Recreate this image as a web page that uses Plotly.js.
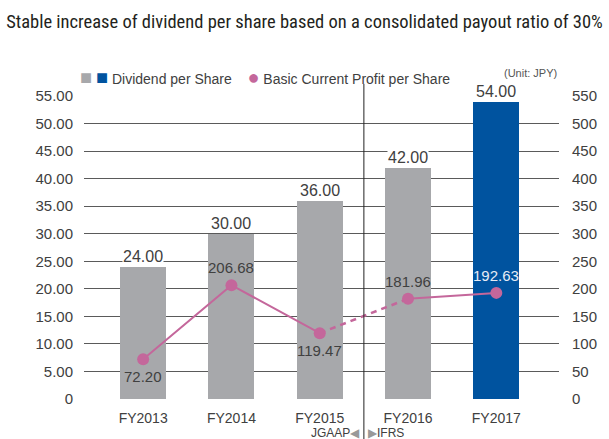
<!DOCTYPE html>
<html>
<head>
<meta charset="utf-8">
<script src="https://cdn.plot.ly/plotly-3.0.1.min.js"></script>
<style>html,body{margin:0;padding:0;background:#fff;}#chart{width:609px;height:439px;}</style>
</head>
<body>
<div id="chart"></div>
<script>
var categories = ["FY2013", "FY2014", "FY2015", "FY2016", "FY2017"];
var dividend = [24.00, 30.00, 36.00, 42.00, 54.00];
var profit = [72.20, 206.68, 119.47, 181.96, 192.63];
var leftTickVals = [0, 5, 10, 15, 20, 25, 30, 35, 40, 45, 50, 55];
var leftTickText = ["0", "5.00", "10.00", "15.00", "20.00", "25.00", "30.00", "35.00", "40.00", "45.00", "50.00", "55.00"];
var rightTickVals = [0, 50, 100, 150, 200, 250, 300, 350, 400, 450, 500, 550];
var profitLabelPos = ["below", "above", "below", "above", "above"];

var GRAY = "#a7a8ab", BLUE = "#00539f", PINK = "#c4679b", TXT = "#404040";
var FONT = "'Liberation Sans', Arial, Helvetica";

var barColors = dividend.map(function (v, i) { return i === dividend.length - 1 ? BLUE : GRAY; });
var xs = categories.map(function (c, i) { return i; });

var traces = [
  { type: "bar", x: xs, y: dividend, width: 0.52, marker: { color: barColors }, hoverinfo: "skip", yaxis: "y" },
  { type: "scatter", mode: "lines", x: xs.slice(0, 3), y: profit.slice(0, 3), yaxis: "y2",
    line: { color: PINK, width: 2 }, hoverinfo: "skip" },
  { type: "scatter", mode: "lines", x: xs.slice(2, 4), y: profit.slice(2, 4), yaxis: "y2",
    line: { color: PINK, width: 2.5, dash: "6px,5px" }, hoverinfo: "skip" },
  { type: "scatter", mode: "lines", x: xs.slice(3, 5), y: profit.slice(3, 5), yaxis: "y2",
    line: { color: PINK, width: 2 }, hoverinfo: "skip" },
  { type: "scatter", mode: "markers", x: xs, y: profit, yaxis: "y2",
    marker: { color: PINK, size: 12 }, hoverinfo: "skip" }
];

var annotations = [];
dividend.forEach(function (v, i) {
  annotations.push({ x: i, y: v, xref: "x", yref: "y", text: v.toFixed(2), showarrow: false,
    yanchor: "bottom", yshift: 1, bgcolor: "#ffffff", borderpad: 0,
    font: { family: FONT, size: 16, color: TXT } });
});
profit.forEach(function (v, i) {
  var above = profitLabelPos[i] === "above";
  annotations.push({ x: i, y: v, xref: "x", yref: "y2", text: v.toFixed(2), showarrow: false,
    yanchor: above ? "bottom" : "top", yshift: above ? 7 : -7,
    font: { family: FONT, size: 15, color: i === profit.length - 1 ? "#e6ecf6" : TXT } });
});
// legend
annotations.push({ xref: "paper", yref: "paper", x: -0.012, y: 1.063, xanchor: "left", yanchor: "middle",
  showarrow: false, align: "left",
  text: "<span style='color:" + GRAY + ";font-size:20px'>■</span> <span style='color:" + BLUE + ";font-size:20px'>■</span> Dividend per Share    <span style='color:" + PINK + ";font-size:20px'>●</span> Basic Current Profit per Share",
  font: { family: FONT, size: 14, color: TXT } });
annotations.push({ xref: "paper", yref: "paper", x: 1.0, y: 1.075, xanchor: "right", yanchor: "middle",
  showarrow: false, text: "(Unit: JPY)", font: { family: FONT, size: 11, color: "#555" } });
// accounting standard labels
annotations.push({ xref: "x", yref: "paper", x: 2.5, y: -0.113, xanchor: "right", yanchor: "middle", xshift: -2,
  showarrow: false, text: "JGAAP<span style='color:#999'>◀</span>", font: { family: FONT, size: 12, color: TXT } });
annotations.push({ xref: "x", yref: "paper", x: 2.5, y: -0.113, xanchor: "left", yanchor: "middle", xshift: 2,
  showarrow: false, text: "<span style='color:#999'>▶</span>IFRS", font: { family: FONT, size: 12, color: TXT } });

var layout = {
  width: 609, height: 439,
  margin: { l: 84, r: 50, t: 96, b: 40 },
  paper_bgcolor: "#fff", plot_bgcolor: "#fff",
  showlegend: false,
  title: { text: "Stable increase of dividend per share based on a consolidated payout ratio of 30%",
    x: 0.5, xanchor: "center", y: 0.95, yanchor: "middle",
    font: { family: "'Liberation Sans Narrow', 'Roboto Condensed', 'Arial Narrow', Roboto", size: 18.5, color: "#231f20" } },
  xaxis: { range: [-0.67, 4.71], tickvals: xs, ticktext: categories, showgrid: false, zeroline: false,
    showline: false, ticks: "", ticklabelstandoff: 9, tickfont: { family: FONT, size: 14, color: TXT }, fixedrange: true },
  yaxis: { range: [0, 55], tickvals: leftTickVals, ticktext: leftTickText, showgrid: true,
    gridcolor: "#5a5a5a", gridwidth: 1, zeroline: false, showline: false, ticks: "",
    ticklabelstandoff: 10, tickfont: { family: FONT, size: 15, color: TXT }, fixedrange: true },
  yaxis2: { range: [0, 550], tickvals: rightTickVals, overlaying: "y", side: "right", showgrid: false,
    zeroline: false, showline: false, ticks: "", ticklabelstandoff: 12,
    tickfont: { family: FONT, size: 15, color: TXT }, fixedrange: true },
  bargap: 0,
  shapes: [
    { type: "line", xref: "x", yref: "paper", x0: 2.5, x1: 2.5, y0: -0.14, y1: 1.04,
      line: { color: "#222", width: 1 }, layer: "above" }
  ],
  annotations: annotations
};

Plotly.newPlot("chart", traces, layout, { displayModeBar: false, staticPlot: true });
</script>
</body>
</html>
